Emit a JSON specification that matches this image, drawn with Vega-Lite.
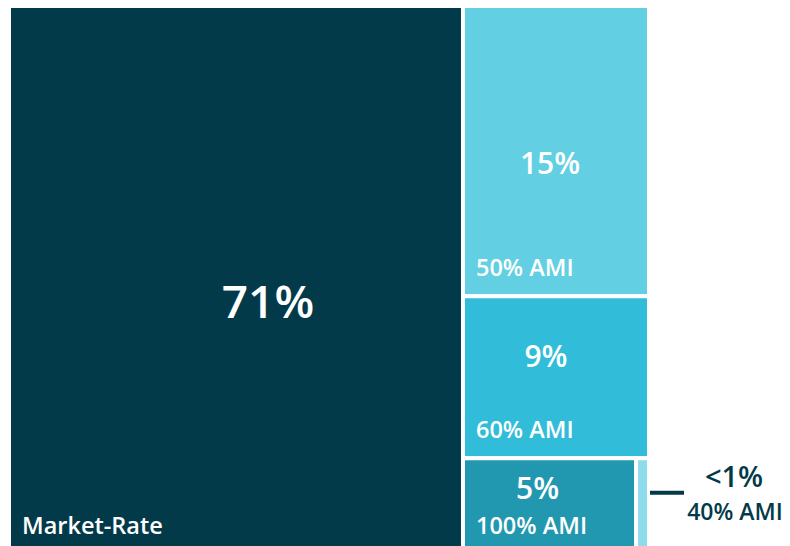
{
  "$schema": "https://vega.github.io/schema/vega-lite/v6.json",
  "width": 640,
  "height": 540,
  "autosize": {"type": "none"},
  "padding": {"left": 9, "top": 6, "right": 141, "bottom": 0},
  "background": "white",
  "config": {"view": {"stroke": null}, "font": "Open Sans"},
  "data": {
    "values": [
      {"category": "Market-Rate", "label": "71%", "share": 70.9, "col": 1, "row": 1, "ord": 1},
      {"category": "50% AMI", "label": "15%", "share": 15.4, "col": 2, "row": 1, "ord": 2},
      {"category": "60% AMI", "label": "9%", "share": 8.6, "col": 2, "row": 2, "ord": 3},
      {"category": "100% AMI", "label": "5%", "share": 4.7, "col": 2, "row": 3, "ord": 4},
      {"category": "40% AMI", "label": "<1%", "share": 0.35, "col": 2, "row": 3, "ord": 5}
    ]
  },
  "transform": [
    {"stack": "share", "groupby": [], "sort": [{"field": "ord", "order": "ascending"}], "as": ["sx0", "sx1"]},
    {"joinaggregate": [{"op": "min", "field": "sx0", "as": "cx0"}, {"op": "max", "field": "sx1", "as": "cx1"}, {"op": "sum", "field": "share", "as": "colSum"}], "groupby": ["col"]},
    {"stack": "share", "groupby": ["col"], "sort": [{"field": "ord", "order": "ascending"}], "as": ["sy0", "sy1"]},
    {"joinaggregate": [{"op": "min", "field": "sy0", "as": "ry0"}, {"op": "max", "field": "sy1", "as": "ry1"}], "groupby": ["col", "row"]},
    {"stack": "share", "groupby": ["col", "row"], "sort": [{"field": "ord", "order": "ascending"}], "offset": "normalize", "as": ["fx0", "fx1"]},
    {"calculate": "datum.cx0 + (datum.cx1 - datum.cx0) * datum.fx0", "as": "x0"},
    {"calculate": "datum.cx0 + (datum.cx1 - datum.cx0) * datum.fx1", "as": "x1"},
    {"calculate": "datum.ry0 / datum.colSum", "as": "y0"},
    {"calculate": "datum.ry1 / datum.colSum", "as": "y1"},
    {"calculate": "(datum.x0 + datum.x1) / 2", "as": "xm"},
    {"calculate": "(datum.y0 + datum.y1) / 2", "as": "ym"}
  ],
  "layer": [
    {
      "mark": {"type": "rect", "stroke": "white", "strokeWidth": 4, "clip": true},
      "encoding": {
        "x": {"field": "x0", "type": "quantitative", "scale": {"domain": [0, 99.95], "nice": false, "zero": false}, "axis": null},
        "x2": {"field": "x1"},
        "y": {"field": "y0", "type": "quantitative", "scale": {"domain": [0, 0.9863], "reverse": true, "nice": false, "zero": false}, "axis": null},
        "y2": {"field": "y1"},
        "color": {
          "field": "category", "type": "nominal", "legend": null,
          "scale": {"domain": ["Market-Rate", "50% AMI", "60% AMI", "100% AMI", "40% AMI"], "range": ["#033a4a", "#63cfe3", "#31bdd9", "#2298b0", "#8ddbeb"]}
        }
      }
    },
    {
      "transform": [{"filter": "datum.category !== '40% AMI'"}],
      "mark": {"type": "text", "align": "left", "baseline": "alphabetic", "dx": 13, "dy": -20, "fontSize": 23.5, "fontWeight": 600, "fill": "white"},
      "encoding": {
        "x": {"field": "x0", "type": "quantitative", "axis": null},
        "y": {"field": "y1", "type": "quantitative", "axis": null},
        "text": {"field": "category"}
      }
    },
    {
      "transform": [{"filter": "datum.category === 'Market-Rate'"}],
      "mark": {"type": "text", "align": "center", "baseline": "middle", "dx": 32, "dy": 24, "fontSize": 46, "fontWeight": 600, "fill": "white"},
      "encoding": {
        "x": {"field": "xm", "type": "quantitative", "axis": null},
        "y": {"field": "ym", "type": "quantitative", "axis": null},
        "text": {"field": "label"}
      }
    },
    {
      "transform": [{"filter": "datum.category === '50% AMI'"}],
      "mark": {"type": "text", "align": "center", "baseline": "middle", "dx": -6, "dy": 14, "fontSize": 30, "fontWeight": 600, "fill": "white"},
      "encoding": {
        "x": {"field": "xm", "type": "quantitative", "axis": null},
        "y": {"field": "ym", "type": "quantitative", "axis": null},
        "text": {"field": "label"}
      }
    },
    {
      "transform": [{"filter": "datum.category === '60% AMI'"}],
      "mark": {"type": "text", "align": "center", "baseline": "middle", "dx": -10, "dy": -19, "fontSize": 30, "fontWeight": 600, "fill": "white"},
      "encoding": {
        "x": {"field": "xm", "type": "quantitative", "axis": null},
        "y": {"field": "ym", "type": "quantitative", "axis": null},
        "text": {"field": "label"}
      }
    },
    {
      "transform": [{"filter": "datum.category === '100% AMI'"}],
      "mark": {"type": "text", "align": "center", "baseline": "middle", "dx": -12, "dy": -16, "fontSize": 30, "fontWeight": 600, "fill": "white"},
      "encoding": {
        "x": {"field": "xm", "type": "quantitative", "axis": null},
        "y": {"field": "ym", "type": "quantitative", "axis": null},
        "text": {"field": "label"}
      }
    },
    {
      "transform": [{"filter": "datum.category === '40% AMI'"}],
      "mark": {"type": "rule", "xOffset": 1, "x2Offset": 35, "yOffset": 34.5, "strokeWidth": 4, "color": "#033a4a"},
      "encoding": {
        "x": {"field": "x1", "type": "quantitative", "axis": null},
        "x2": {"field": "x1"},
        "y": {"field": "y0", "type": "quantitative", "axis": null}
      }
    },
    {
      "transform": [{"filter": "datum.category === '40% AMI'"}],
      "mark": {"type": "text", "align": "center", "baseline": "middle", "dx": 85, "dy": 20, "fontSize": 29, "fontWeight": 600, "fill": "#033a4a"},
      "encoding": {
        "x": {"field": "x1", "type": "quantitative", "axis": null},
        "y": {"field": "y0", "type": "quantitative", "axis": null},
        "text": {"field": "label"}
      }
    },
    {
      "transform": [{"filter": "datum.category === '40% AMI'"}],
      "mark": {"type": "text", "align": "center", "baseline": "alphabetic", "dx": 86, "dy": 62, "fontSize": 23, "fontWeight": 600, "fill": "#033a4a"},
      "encoding": {
        "x": {"field": "x1", "type": "quantitative", "axis": null},
        "y": {"field": "y0", "type": "quantitative", "axis": null},
        "text": {"field": "category"}
      }
    }
  ]
}
